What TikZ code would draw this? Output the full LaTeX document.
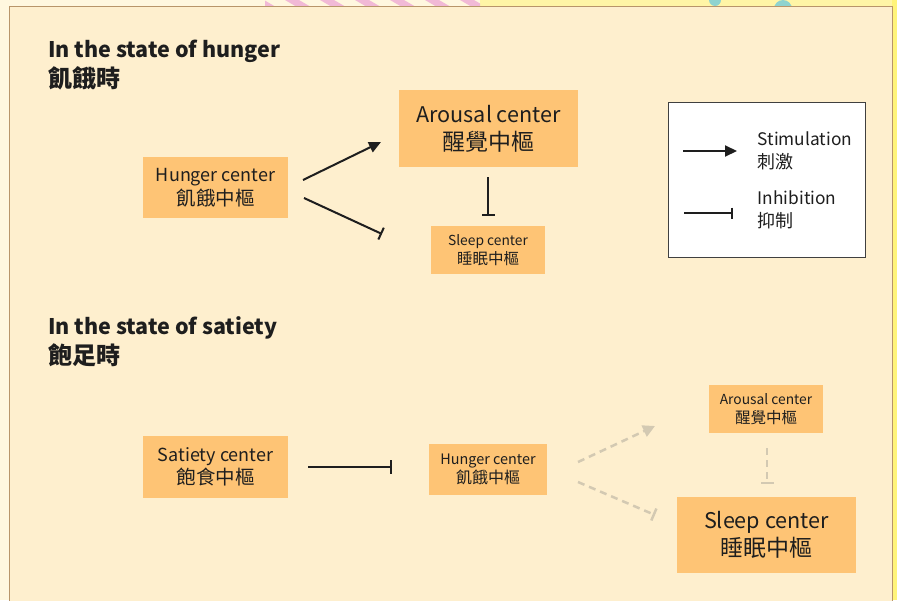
\documentclass[tikz,border=0pt]{standalone}
\usepackage{fontspec}
\setmainfont{Noto Sans CJK TC}
\usetikzlibrary{arrows.meta}

\definecolor{page}{HTML}{FFF7DF}
\definecolor{panel}{HTML}{FEEFCE}
\definecolor{frame}{HTML}{B8956A}
\definecolor{boxfill}{HTML}{FEC475}
\definecolor{ink}{HTML}{1E1E1E}
\definecolor{faint}{HTML}{D3C9B2}
\definecolor{stripe}{HTML}{F1B9D6}
\definecolor{teal}{HTML}{8FD3CF}

% English lines are set a little smaller than the Chinese ones
\newcommand{\bigen}{\fontsize{21.6}{28}\selectfont}
\newcommand{\miden}{\fontsize{18}{23.5}\selectfont}
\newcommand{\smallen}{\fontsize{13.8}{18.5}\selectfont}

\begin{document}
\begin{tikzpicture}[x=1pt, y=-1pt,
	box/.style={fill=boxfill, text=ink, align=center, inner sep=0pt},
	bigbox/.style={box, minimum width=179pt, minimum height=77pt, font=\fontsize{23}{28}\selectfont},
	midbox/.style={box, minimum width=145pt, minimum height=61pt, font=\fontsize{19.5}{23.5}\selectfont},
	smallbox/.style={box, minimum width=114pt, minimum height=48pt, font=\fontsize{15.5}{18.5}\selectfont},
	title/.style={anchor=base west, inner sep=0pt, text=ink, font=\bfseries\fontsize{21.5}{25}\selectfont},
	legtext/.style={anchor=west, align=left, inner sep=0pt, text=ink, font=\fontsize{18}{23}\selectfont},
	stim/.style={draw=ink, line width=2pt, -{Triangle[length=12pt, width=11pt]}},
	inhib/.style={draw=ink, line width=2pt, -{Bar[width=13pt, line width=2pt]}},
	faded/.style={draw=faint, line width=2.5pt, dash pattern=on 7pt off 5pt}
]
	\useasboundingbox (0,0) rectangle (897,600);

	% background and panel
	\fill[page] (0,0) rectangle (897,600);
	\fill[yellow!25!page] (480,0) rectangle (897,7);
	\fill[yellow!45!page] (892,0) rectangle (897,600);
	\begin{scope}
		\clip (265,0) rectangle (480,7);
		\foreach \s in {250,285,...,480}
			\fill[stripe] (\s,0) -- (\s+14,0) -- (\s+26,7) -- (\s+12,7) -- cycle;
	\end{scope}
	\fill[teal] (715,0) circle (6);
	\fill[teal] (783,9) circle (9);
	\filldraw[fill=panel, draw=frame, line width=1pt] (9,601) -- (9,6) -- (892,6) -- (892,601);

	% titles
	\node[title] (hungerT) at (48,57) {In the state of hunger};
	\node[title, font=\bfseries\fontsize{24}{28}\selectfont] (hungerC) at (48,87) {飢餓時};
	\node[title] (satietyT) at (48,334) {In the state of satiety};
	\node[title, font=\bfseries\fontsize{24}{28}\selectfont] (satietyC) at (48,364) {飽足時};

	% hunger state
	\node[midbox] (hungerA) at (215.5,187.5) {{\miden Hunger center}\\飢餓中樞};
	\node[bigbox] (arousalA) at (488.5,128.5) {{\bigen Arousal center}\\醒覺中樞};
	\node[smallbox] (sleepA) at (488,250) {{\smallen Sleep center}\\睡眠中樞};

	% satiety state
	\node[midbox, minimum height=62pt] (satiety) at (215.5,467) {{\miden Satiety center}\\飽食中樞};
	\node[smallbox, minimum width=118pt, minimum height=51pt, font=\fontsize{16}{19}\selectfont] (hungerB) at (488,469.5) {{\fontsize{14.4}{19}\selectfont Hunger center}\\飢餓中樞};
	\node[smallbox] (arousalB) at (766,409) {{\smallen Arousal center}\\醒覺中樞};
	\node[bigbox, minimum height=76pt] (sleepB) at (766.5,535) {{\bigen Sleep center}\\睡眠中樞};

	% legend
	\node[draw=ink!85, line width=1pt, fill=white, minimum width=197pt, minimum height=155pt, inner sep=0pt] (legend) at (766.5,179.5) {};
	\node[legtext] (stimL) at (757.5,151) {{\fontsize{17.3}{23}\selectfont Stimulation}\\刺激};
	\node[legtext] (inhibL) at (757.5,210) {{\fontsize{17.3}{23}\selectfont Inhibition}\\抑制};

	% points
	\coordinate (p1) at (303,180);
	\coordinate (p2) at (381,142);
	\coordinate (p3) at (304,198);
	\coordinate (p4) at (382,234);
	\coordinate (p5) at (488,177);
	\coordinate (p6) at (488,216);
	\coordinate (l1) at (683,151);
	\coordinate (l2) at (737,151);
	\coordinate (l3) at (684,213);
	\coordinate (l4) at (733,213);
	\coordinate (q1) at (308,467);
	\coordinate (q2) at (392,467);
	\coordinate (q3) at (578,462);
	\coordinate (q4) at (655,426);
	\coordinate (q5) at (578,482);
	\coordinate (q6) at (655,515);
	\coordinate (q7) at (767,448);
	\coordinate (q8) at (767,484);

	% connectors
	\draw[stim] (p1) -- (p2);
	\draw[inhib] (p3) -- (p4);
	\draw[inhib] (p5) -- (p6);
	\draw[stim] (l1) -- (l2);
	\draw[inhib, -{Bar[width=11pt, line width=2pt]}] (l3) -- (l4);
	\draw[inhib, -{Bar[width=14pt, line width=2pt]}] (q1) -- (q2);
	\draw[faded, -{Triangle[length=12pt, width=12pt, fill=faint, sep=0pt]}] (q3) -- (q4);
	\draw[faded, -{Bar[width=13pt, line width=2.5pt]}] (q5) -- (q6);
	\draw[faded, -{Bar[width=13pt, line width=2.5pt]}] (q7) -- (q8);
\end{tikzpicture}
\end{document}
